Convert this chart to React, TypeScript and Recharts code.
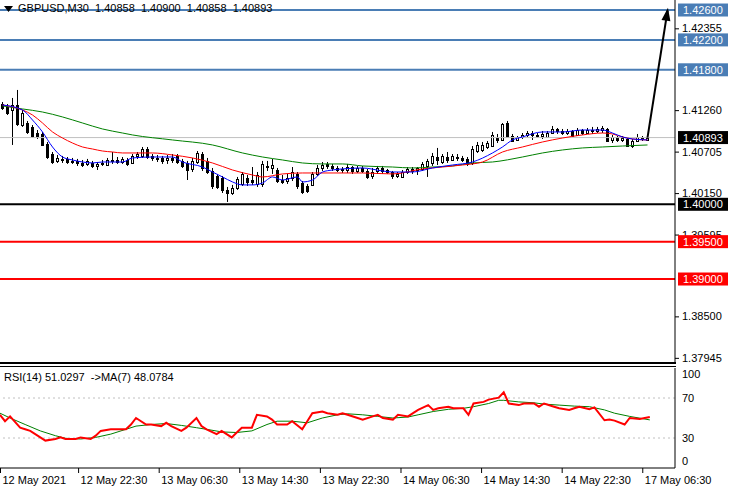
import React from "react";
import { Bar, ComposedChart, Line, ReferenceLine, XAxis, YAxis } from "recharts";

const FONT = "'Liberation Sans', Arial, sans-serif";

// GBPUSD M30 bars, 12 May 14:30 .. 17 May 07:00
const opens = [
  1.41342, 1.41302, 1.41262, 1.41329, 1.41061, 1.41088, 1.41035, 1.40954, 1.40941, 1.40807,
  1.40673, 1.4058, 1.40593, 1.40607, 1.4058, 1.4058, 1.40553, 1.4054, 1.40553, 1.40513,
  1.4054, 1.40526, 1.4058, 1.40593, 1.40566, 1.40593, 1.40553, 1.40647, 1.40647, 1.4074,
  1.40647, 1.4062, 1.4062, 1.40593, 1.4062, 1.40647, 1.4058, 1.40553, 1.40473, 1.40566,
  1.40673, 1.4058, 1.40446, 1.40379, 1.40352, 1.40192, 1.40151, 1.40218, 1.40272, 1.40352,
  1.40325, 1.40272, 1.40272, 1.40513, 1.40486, 1.40459, 1.40325, 1.40312, 1.40352, 1.40406,
  1.40285, 1.40245, 1.40259, 1.40406, 1.40486, 1.4054, 1.40513, 1.40486, 1.40473, 1.40459,
  1.40499, 1.40446, 1.40486, 1.40446, 1.40379, 1.40446, 1.40486, 1.40459, 1.40432, 1.40379,
  1.40366, 1.40432, 1.40473, 1.40459, 1.40473, 1.40513, 1.40553, 1.40633, 1.40566, 1.40633,
  1.40593, 1.40633, 1.4062, 1.40607, 1.40553, 1.40713, 1.40727, 1.40767, 1.4078, 1.40887,
  1.40861, 1.41088, 1.40914, 1.40861, 1.40901, 1.40928, 1.40954, 1.40928, 1.40914, 1.40901,
  1.40954, 1.41008, 1.40981, 1.40954, 1.40981, 1.40928, 1.40994, 1.40954, 1.40994, 1.40981,
  1.40994, 1.41008, 1.40861, 1.40901, 1.40861, 1.40874, 1.4078, 1.40847, 1.40887, 1.40858,
];
const highs = [
  1.41369, 1.41342, 1.41423, 1.4153, 1.41262, 1.41115, 1.41061, 1.40994, 1.40968, 1.40834,
  1.407, 1.4066, 1.40647, 1.40633, 1.4062, 1.40607, 1.40593, 1.40607, 1.4058, 1.40566,
  1.40593, 1.4062, 1.407, 1.40633, 1.40633, 1.4062, 1.40673, 1.407, 1.40767, 1.40767,
  1.40673, 1.4066, 1.40647, 1.4066, 1.40673, 1.40673, 1.40607, 1.4058, 1.4062, 1.40713,
  1.407, 1.4062, 1.40486, 1.40406, 1.40379, 1.40232, 1.40259, 1.40366, 1.40432, 1.40392,
  1.40499, 1.40432, 1.4058, 1.4058, 1.40607, 1.40486, 1.40392, 1.40406, 1.40499, 1.40432,
  1.40312, 1.40272, 1.40432, 1.40526, 1.40566, 1.40566, 1.4054, 1.40513, 1.40499, 1.4054,
  1.40513, 1.40513, 1.40513, 1.40473, 1.40486, 1.40513, 1.40513, 1.40473, 1.40446, 1.40432,
  1.40459, 1.40499, 1.40499, 1.40499, 1.40566, 1.40607, 1.40687, 1.40754, 1.40673, 1.407,
  1.40673, 1.40673, 1.40647, 1.40633, 1.4078, 1.40834, 1.40834, 1.40847, 1.40968, 1.40941,
  1.41088, 1.41115, 1.40941, 1.40914, 1.40954, 1.40981, 1.40981, 1.40954, 1.40981, 1.40981,
  1.41048, 1.41021, 1.41008, 1.41008, 1.40994, 1.41021, 1.41008, 1.41021, 1.41035, 1.41035,
  1.41048, 1.41021, 1.40928, 1.40914, 1.40914, 1.40887, 1.40874, 1.40941, 1.40914, 1.409,
];
const lows = [
  1.41262, 1.41195, 1.40794, 1.41048, 1.41035, 1.40941, 1.40887, 1.40874, 1.4078, 1.40607,
  1.4054, 1.40553, 1.40553, 1.4054, 1.4054, 1.40513, 1.40499, 1.40513, 1.40486, 1.40459,
  1.40513, 1.40513, 1.4054, 1.4054, 1.4054, 1.40513, 1.4054, 1.40607, 1.4062, 1.40607,
  1.4058, 1.40566, 1.4054, 1.4054, 1.40553, 1.4054, 1.40486, 1.40325, 1.40432, 1.4054,
  1.40446, 1.40406, 1.40205, 1.40205, 1.40151, 1.40031, 1.40125, 1.40192, 1.40245, 1.40245,
  1.40259, 1.40232, 1.40232, 1.40446, 1.40406, 1.40285, 1.40272, 1.40272, 1.40312, 1.40205,
  1.40138, 1.40151, 1.40245, 1.40379, 1.40446, 1.40473, 1.40446, 1.40432, 1.40419, 1.40419,
  1.40406, 1.40419, 1.40419, 1.40339, 1.40339, 1.40406, 1.40406, 1.40406, 1.40339, 1.40352,
  1.40352, 1.40406, 1.40406, 1.40392, 1.40446, 1.40366, 1.40513, 1.40526, 1.4054, 1.40553,
  1.4058, 1.4058, 1.40566, 1.40513, 1.40526, 1.40687, 1.407, 1.4074, 1.40767, 1.4082,
  1.40847, 1.40887, 1.40834, 1.40847, 1.40874, 1.40901, 1.40861, 1.40887, 1.40874, 1.40887,
  1.40941, 1.40941, 1.40928, 1.40928, 1.40901, 1.40914, 1.40928, 1.40941, 1.40941, 1.40954,
  1.40954, 1.40834, 1.4082, 1.40834, 1.40834, 1.40767, 1.40754, 1.40847, 1.40847, 1.40858,
];
const closes = [
  1.41289, 1.41222, 1.41329, 1.41075, 1.41222, 1.40968, 1.40914, 1.40914, 1.40794, 1.40633,
  1.40566, 1.4062, 1.40607, 1.40566, 1.40566, 1.40553, 1.40526, 1.4058, 1.40513, 1.4054,
  1.40553, 1.40593, 1.40593, 1.40566, 1.40607, 1.4054, 1.40647, 1.40673, 1.4074, 1.40633,
  1.4062, 1.40607, 1.4058, 1.4062, 1.40593, 1.40566, 1.40513, 1.40459, 1.4058, 1.40687,
  1.40486, 1.40432, 1.40245, 1.40232, 1.40192, 1.40151, 1.40218, 1.40339, 1.40406, 1.40299,
  1.40299, 1.40392, 1.4054, 1.40499, 1.40526, 1.40312, 1.40299, 1.40352, 1.40432, 1.40245,
  1.40165, 1.40178, 1.40406, 1.40486, 1.40526, 1.40513, 1.40486, 1.40459, 1.40459, 1.40499,
  1.40446, 1.40486, 1.40446, 1.40366, 1.40432, 1.40486, 1.40446, 1.40432, 1.40379, 1.40406,
  1.40432, 1.40473, 1.40446, 1.40486, 1.4054, 1.4058, 1.40647, 1.40593, 1.40647, 1.40593,
  1.40647, 1.4062, 1.40593, 1.4054, 1.4074, 1.40794, 1.40794, 1.4082, 1.40928, 1.40861,
  1.41075, 1.40901, 1.40847, 1.40901, 1.40928, 1.40954, 1.40928, 1.40914, 1.40941, 1.40954,
  1.41008, 1.40981, 1.40954, 1.40981, 1.40914, 1.40994, 1.40954, 1.40994, 1.40981, 1.41008,
  1.41021, 1.40847, 1.40901, 1.40861, 1.40887, 1.4078, 1.40847, 1.40901, 1.40874, 1.40893,
];

// moving averages: [bar, price]
const maFast: [number, number][] = [
  [0, 1.41329], [4, 1.41262], [6, 1.41128], [8, 1.40968], [10, 1.40767], [12, 1.40633],
  [14, 1.40593], [16, 1.40566], [18, 1.40553], [20, 1.40566], [24, 1.40566], [26, 1.4062],
  [30, 1.40633], [34, 1.40633], [36, 1.40566], [40, 1.40499], [42, 1.40432], [44, 1.40366],
  [46, 1.40299], [48, 1.40259], [50, 1.40259], [52, 1.40285], [54, 1.40366], [56, 1.40325],
  [59, 1.40366], [60, 1.40299], [62, 1.40325], [64, 1.40432], [66, 1.40459], [68, 1.40473],
  [72, 1.40486], [76, 1.40446], [78, 1.40432], [82, 1.40432], [86, 1.40486], [90, 1.40526],
  [94, 1.40566], [98, 1.40687], [100, 1.40767], [102, 1.40861], [104, 1.40901], [108, 1.40968],
  [112, 1.40968], [116, 1.40994], [120, 1.40994], [122, 1.40954], [124, 1.40901], [126, 1.40874],
  [129, 1.40861],
];
const maMid: [number, number][] = [
  [0, 1.41329], [4, 1.41262], [6, 1.41195], [8, 1.41088], [10, 1.40968], [12, 1.40887],
  [14, 1.4082], [16, 1.40767], [18, 1.4074], [20, 1.40713], [22, 1.407], [24, 1.40687],
  [30, 1.40687], [34, 1.4066], [38, 1.4062], [42, 1.40553], [46, 1.40459], [50, 1.40392],
  [52, 1.40366], [56, 1.40406], [60, 1.40419], [72, 1.40419], [78, 1.40406], [84, 1.40473],
  [88, 1.40499], [92, 1.40526], [96, 1.40566], [100, 1.407], [104, 1.40767], [108, 1.40834],
  [112, 1.40887], [116, 1.40928], [120, 1.40954], [122, 1.40941], [124, 1.40901], [126, 1.40874],
  [129, 1.40861],
];
const maSlow: [number, number][] = [
  [0, 1.41316], [4, 1.41276], [8, 1.41235], [12, 1.41169], [16, 1.41088], [20, 1.41008],
  [24, 1.40954], [26, 1.40928], [34, 1.40861], [42, 1.40794], [48, 1.40687], [52, 1.40633],
  [56, 1.40593], [60, 1.40553], [64, 1.4054], [68, 1.4054], [72, 1.40513], [78, 1.40499],
  [82, 1.40486], [86, 1.40499], [90, 1.40513], [94, 1.40553], [98, 1.40566], [104, 1.40633],
  [108, 1.40687], [112, 1.40727], [116, 1.40754], [120, 1.40767], [124, 1.4078], [129, 1.40794],
];

const blueLevels = [1.426, 1.422, 1.418];
const blackLevel = 1.4;
const redLevels = [1.395, 1.39];
const lastPrice = 1.40893;
const priceTicks = [1.42355, 1.4126, 1.40705, 1.4015, 1.39595, 1.385, 1.37945];
const arrowPath: [number, number][] = [[129, 1.40893], [133, 1.4259]];

// RSI(14) and its MA(7): [bar, value]
const rsiLine: [number, number][] = [
  [0, 53.2], [1, 46.8], [2, 51.6], [4, 40.3], [5, 38.7], [6, 37.1], [8, 30.6], [9, 27.4],
  [11, 29.0], [12, 30.6], [13, 29.0], [15, 29.0], [16, 30.6], [18, 29.0], [19, 32.3], [20, 37.1],
  [22, 38.7], [25, 38.7], [26, 43.5], [27, 50.0], [29, 43.5], [30, 43.5], [32, 41.9], [33, 45.2],
  [34, 41.9], [36, 37.1], [37, 40.3], [39, 50.0], [40, 41.9], [41, 38.7], [43, 33.9], [44, 37.1],
  [46, 30.6], [47, 35.5], [48, 40.3], [50, 40.3], [51, 53.2], [53, 51.6], [54, 48.4], [55, 43.5],
  [57, 43.5], [58, 46.8], [60, 38.7], [61, 46.8], [62, 54.8], [64, 56.5], [65, 54.8], [67, 53.2],
  [68, 54.8], [69, 53.2], [71, 50.0], [72, 48.4], [74, 51.6], [75, 53.2], [76, 50.0], [78, 48.4],
  [79, 53.2], [81, 51.6], [82, 54.8], [83, 58.1], [85, 62.9], [86, 58.1], [87, 59.7], [89, 61.3],
  [90, 59.7], [92, 59.7], [93, 53.2], [94, 64.5], [96, 66.1], [97, 68.4], [99, 70.3], [100, 75.8],
  [101, 64.5], [103, 62.9], [104, 64.5], [106, 64.5], [107, 61.3], [108, 64.5], [110, 61.3],
  [111, 59.7], [113, 58.1], [114, 59.7], [115, 61.3], [117, 58.7], [118, 60.6], [120, 47.7],
  [121, 48.4], [122, 47.4], [124, 43.5], [125, 50.0], [127, 49.0], [129, 51.0],
];
const rsiMa: [number, number][] = [
  [0, 54.8], [2, 50.0], [5, 43.5], [8, 37.1], [11, 32.3], [13, 29.7], [16, 29.0], [19, 30.6],
  [22, 33.9], [25, 38.7], [27, 41.9], [30, 43.5], [33, 44.5], [36, 42.6], [39, 40.3], [41, 38.7],
  [44, 36.1], [47, 35.5], [50, 37.1], [53, 43.5], [55, 46.8], [58, 46.8], [61, 45.2], [64, 50.0],
  [67, 53.2], [69, 54.2], [72, 53.2], [75, 51.6], [78, 50.0], [81, 51.0], [83, 53.2], [86, 56.5],
  [89, 58.7], [92, 59.7], [94, 61.3], [97, 64.5], [99, 67.7], [100, 67.7], [103, 66.1],
  [106, 65.2], [108, 63.9], [111, 62.9], [114, 61.9], [117, 61.3], [120, 58.1], [122, 54.8],
  [125, 51.6], [129, 48.1],
];
const rsiTicks = [100, 70, 30, 0];

const timeTicks = [0, 16, 32, 48, 64, 80, 96, 112, 128];
const timeLabels = [
  "12 May 2021", "12 May 22:30", "13 May 06:30", "13 May 14:30", "13 May 22:30",
  "14 May 06:30", "14 May 14:30", "14 May 22:30", "17 May 06:30",
];

const SLOTS = 135; // bars plus the empty shift area on the right

const lookup = (pts: [number, number][]) => {
  const m = new Map(pts);
  return (i: number) => (m.has(i) ? (m.get(i) as number) : null);
};
const fast = lookup(maFast);
const mid = lookup(maMid);
const slow = lookup(maSlow);
const arrow = lookup(arrowPath);
const rsiAt = lookup(rsiLine);
const rsiMaAt = lookup(rsiMa);

const rows = Array.from({ length: SLOTS }, (_, i) => {
  const has = i < closes.length;
  return {
    i,
    o: has ? opens[i] : null,
    h: has ? highs[i] : null,
    l: has ? lows[i] : null,
    c: has ? closes[i] : null,
    range: has ? [lows[i], highs[i]] : null,
    fast: fast(i),
    mid: mid(i),
    slow: slow(i),
    arrow: arrow(i),
  };
});

const rsiRows = Array.from({ length: SLOTS }, (_, i) => ({
  i,
  rsi: rsiAt(i),
  ma: rsiMaAt(i),
}));

const same = (a: number, b: number) => Math.abs(a - b) < 1e-7;
const tagColor = (v: number) => {
  if (blueLevels.some((b) => same(b, v))) return "#4a7db5";
  if (redLevels.some((b) => same(b, v))) return "#ff0000";
  if (same(v, blackLevel) || same(v, lastPrice)) return "#000";
  return null;
};

function Candle(props: any) {
  const { x, y, width, height, payload } = props;
  if (!payload || payload.o == null) return <g />;
  const { o, h, l, c } = payload;
  const top = Math.min(y, y + height);
  const hh = Math.abs(height);
  const span = h - l;
  const py = (p: number) => (span > 0 ? top + ((h - p) / span) * hh : top);
  const cx = Math.floor(x + width / 2);
  const b0 = Math.round(Math.min(py(o), py(c)));
  const b1 = Math.round(Math.max(py(o), py(c)));
  return (
    <g>
      <line x1={cx + 0.5} x2={cx + 0.5} y1={top} y2={top + hh} stroke="#000" strokeWidth={1} />
      <rect
        x={cx - 0.5}
        y={b0 + 0.5}
        width={2}
        height={Math.max(0, b1 - b0)}
        fill={c >= o ? "#fff" : "#000"}
        stroke="#000"
        strokeWidth={1}
      />
    </g>
  );
}

function PriceTick(props: any) {
  const { x, y, payload } = props;
  const v = payload.value as number;
  const bg = tagColor(v);
  if (bg) {
    return (
      <g>
        <rect x={x + 3} y={y - 6.5} width={50} height={13} fill={bg} />
        <text x={x + 8} y={y + 4} fill="#fff" fontSize={11} fontFamily={FONT}>
          {v.toFixed(5)}
        </text>
      </g>
    );
  }
  return (
    <g>
      <line x1={x} x2={x + 4} y1={y + 0.5} y2={y + 0.5} stroke="#000" />
      <text x={x + 7} y={y + 4} fill="#000" fontSize={11} fontFamily={FONT}>
        {v.toFixed(5)}
      </text>
    </g>
  );
}

function RsiTick(props: any) {
  const { x, y, payload } = props;
  const v = payload.value as number;
  const dy = v === 100 ? 10 : v === 0 ? -3 : 4;
  return (
    <text x={x + 7} y={y + dy} fill="#000" fontSize={11} fontFamily={FONT}>
      {v}
    </text>
  );
}

function TimeTick(props: any) {
  const { x, y, payload } = props;
  const k = timeTicks.indexOf(payload.value);
  if (k < 0) return <g />;
  const tx = Math.max(0.5, x - 2);
  return (
    <g>
      <line x1={tx} x2={tx} y1={y} y2={y + 5} stroke="#000" />
      <text x={tx + 2} y={y + 16} fill="#000" fontSize={11} fontFamily={FONT}>
        {timeLabels[k]}
      </text>
    </g>
  );
}

function ArrowHead(props: any) {
  const { cx, cy, payload } = props;
  const tip = arrowPath[arrowPath.length - 1];
  if (!payload || payload.i !== tip[0]) return <g />;
  return (
    <polygon
      points={`${cx},${cy - 3} ${cx - 4.5},${cy + 10} ${cx + 4.5},${cy + 10}`}
      fill="#000"
      transform={`rotate(9 ${cx} ${cy})`}
    />
  );
}

export default function App() {
  return (
    <div
      style={{
        position: "fixed",
        left: 0,
        top: 0,
        width: 731,
        height: 491,
        background: "#fff",
        overflow: "hidden",
        fontFamily: FONT,
      }}
    >
      <div style={{ position: "absolute", left: 0, top: 0 }}>
        <ComposedChart
          width={731}
          height={363}
          data={rows}
          margin={{ top: 0, right: 0, bottom: 0, left: 0 }}
          barCategoryGap={0}
          barGap={0}
        >
          <XAxis dataKey="i" hide />
          <YAxis
            orientation="right"
            width={56}
            domain={[1.37876, 1.42734]}
            allowDataOverflow
            ticks={[...priceTicks, ...blueLevels, lastPrice, blackLevel, ...redLevels]}
            interval={0}
            tickSize={0}
            tickMargin={0}
            tickLine={false}
            axisLine={{ stroke: "#000" }}
            tick={(p: any) => <PriceTick {...p} />}
          />
          <ReferenceLine y={lastPrice} stroke="#c0c0c0" strokeWidth={1} />
          {blueLevels.map((v) => (
            <ReferenceLine key={v} y={v} stroke="#4a7db5" strokeWidth={2} />
          ))}
          <ReferenceLine y={blackLevel} stroke="#000" strokeWidth={2} />
          {redLevels.map((v) => (
            <ReferenceLine key={v} y={v} stroke="#ff0000" strokeWidth={2} />
          ))}
          <Bar dataKey="range" shape={(p: any) => <Candle {...p} />} isAnimationActive={false} />
          <Line dataKey="slow" type="monotone" stroke="#008000" strokeWidth={1} dot={false} activeDot={false} connectNulls isAnimationActive={false} />
          <Line dataKey="mid" type="monotone" stroke="#ff0000" strokeWidth={1} dot={false} activeDot={false} connectNulls isAnimationActive={false} />
          <Line dataKey="fast" type="monotone" stroke="#0000ff" strokeWidth={1} dot={false} activeDot={false} connectNulls isAnimationActive={false} />
          <Line
            dataKey="arrow"
            type="linear"
            stroke="#000"
            strokeWidth={2}
            dot={(p: any) => <ArrowHead key={p.index} {...p} />}
            activeDot={false}
            connectNulls
            isAnimationActive={false}
          />
        </ComposedChart>
      </div>

      <div style={{ position: "absolute", left: 0, top: 362, width: 676, height: 2, background: "#000" }} />
      <div style={{ position: "absolute", left: 0, top: 366, width: 676, height: 1, background: "#000" }} />

      <div style={{ position: "absolute", left: 0, top: 364 }}>
        <ComposedChart
          width={731}
          height={127}
          data={rsiRows}
          margin={{ top: 4, right: 0, bottom: 0, left: 0 }}
        >
          <XAxis
            dataKey="i"
            height={23}
            interval={15}
            tickSize={0}
            tickMargin={0}
            tickLine={false}
            axisLine={{ stroke: "#000" }}
            tick={(p: any) => <TimeTick {...p} />}
          />
          <YAxis
            orientation="right"
            width={56}
            domain={[0, 100]}
            ticks={rsiTicks}
            interval={0}
            tickSize={0}
            tickMargin={0}
            tickLine={false}
            axisLine={{ stroke: "#000" }}
            tick={(p: any) => <RsiTick {...p} />}
          />
          <ReferenceLine y={70} stroke="#c0c0c0" strokeDasharray="2 3" />
          <ReferenceLine y={30} stroke="#c0c0c0" strokeDasharray="2 3" />
          <Line dataKey="ma" type="linear" stroke="#008000" strokeWidth={1} dot={false} activeDot={false} connectNulls isAnimationActive={false} />
          <Line dataKey="rsi" type="linear" stroke="#ff0000" strokeWidth={2} dot={false} activeDot={false} connectNulls isAnimationActive={false} />
        </ComposedChart>
      </div>

      <div
        style={{
          position: "absolute",
          left: 4,
          top: 2,
          fontSize: 11,
          lineHeight: "13px",
          whiteSpace: "pre",
          color: "#000",
          display: "flex",
          alignItems: "center",
        }}
      >
        <svg width={9} height={6} style={{ marginRight: 5 }}>
          <polygon points="0,0 9,0 4.5,6" fill="#000" />
        </svg>
        {"GBPUSD,M30  1.40858  1.40900  1.40858  1.40893"}
      </div>
      <div
        style={{
          position: "absolute",
          left: 4,
          top: 371,
          fontSize: 11,
          lineHeight: "13px",
          whiteSpace: "pre",
          color: "#000",
        }}
      >
        {"RSI(14) 51.0297  ->MA(7) 48.0784"}
      </div>
    </div>
  );
}
